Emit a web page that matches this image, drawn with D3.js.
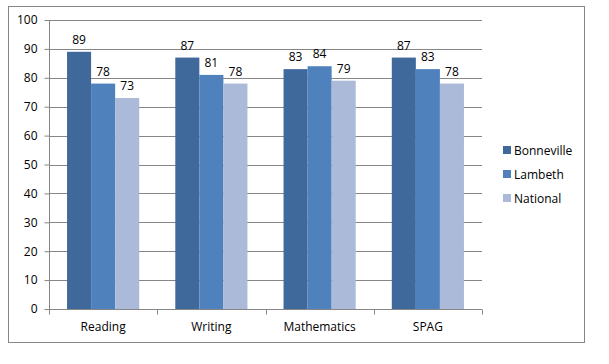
<!DOCTYPE html>
<html>
<head>
<style>
 body { margin: 0; background: #fff; }
 svg { font-family: "Open Sans", "DejaVu Sans", sans-serif; }
</style>
</head>
<body>
<svg width="609" height="364"></svg>
<script src="https://cdn.jsdelivr.net/npm/d3@7"></script>
<script>
var subjects = ["Reading", "Writing", "Mathematics", "SPAG"];
var seriesNames = ["Bonneville", "Lambeth", "National"];
var bonneville = [89, 87, 83, 87];
var lambeth = [78, 81, 84, 83];
var national = [73, 78, 79, 78];
var yTicks = [0, 10, 20, 30, 40, 50, 60, 70, 80, 90, 100];
var colors = ["#3F699B", "#4F81BD", "#AABAD8"];

var seriesValues = [bonneville, lambeth, national];

var svg = d3.select("svg");

// outer chart border
svg.append("rect")
    .attr("x", 8.5).attr("y", 6.5)
    .attr("width", 576).attr("height", 336)
    .attr("fill", "#fff")
    .attr("stroke", "#868686");

var plot = {left: 49, top: 20, right: 482, bottom: 309};

var x0 = d3.scaleBand()
    .domain(subjects)
    .range([plot.left, plot.right])
    .paddingInner(0)
    .paddingOuter(0);

var x1 = d3.scaleBand()
    .domain(seriesNames)
    .range([0, x0.bandwidth()])
    .paddingOuter(0.75)
    .paddingInner(0);

var y = d3.scaleLinear()
    .domain([0, 100])
    .range([plot.bottom, plot.top]);

// gridlines
svg.append("g")
    .selectAll("line")
    .data(yTicks.filter(function(d) { return d > 0; }))
    .join("line")
    .attr("x1", plot.left).attr("x2", plot.right)
    .attr("y1", function(d) { return Math.round(y(d)) + 0.5; })
    .attr("y2", function(d) { return Math.round(y(d)) + 0.5; })
    .attr("stroke", "#868686");

// bars
var groups = svg.append("g")
    .selectAll("g")
    .data(subjects)
    .join("g")
    .attr("transform", function(d) { return "translate(" + x0(d) + ",0)"; });

groups.selectAll("rect")
    .data(function(d, i) {
        return seriesNames.map(function(s, j) { return {s: s, v: seriesValues[j][i], j: j}; });
    })
    .join("rect")
    .attr("x", function(d) { return x1(d.s); })
    .attr("y", function(d) { return y(d.v); })
    .attr("width", x1.bandwidth())
    .attr("height", function(d) { return y(0) - y(d.v); })
    .attr("fill", function(d) { return colors[d.j]; });

groups.selectAll("text")
    .data(function(d, i) {
        return seriesNames.map(function(s, j) { return {s: s, v: seriesValues[j][i], j: j}; });
    })
    .join("text")
    .attr("x", function(d) { return x1(d.s) + x1.bandwidth() / 2; })
    .attr("y", function(d) { return y(d.v) - 8; })
    .attr("text-anchor", "middle")
    .style("font-size", "12px")
    .attr("fill", "#000")
    .text(function(d) { return d.v; });

// y axis
var yAxis = d3.axisLeft(y).tickValues(yTicks).tickSize(5).tickPadding(7);
var yG = svg.append("g")
    .attr("transform", "translate(" + (plot.left + 0.5) + ",0)")
    .call(yAxis);
yG.select(".domain").attr("stroke", "#868686").attr("d", "M0," + plot.top + "V" + plot.bottom);
yG.selectAll(".tick line").attr("stroke", "#868686");
yG.selectAll(".tick text").style("font-size", "12px").attr("fill", "#000")
    .style("font-family", "'Open Sans', sans-serif");

// x axis
var xG = svg.append("g")
    .attr("transform", "translate(0," + (plot.bottom + 0.5) + ")");
xG.append("line")
    .attr("x1", plot.left).attr("x2", plot.right)
    .attr("stroke", "#868686");
xG.selectAll(".xt")
    .data(subjects.concat(["end"]))
    .join("line")
    .attr("class", "xt")
    .attr("x1", function(d, i) { return Math.round(plot.left + i * x0.step()) + 0.5; })
    .attr("x2", function(d, i) { return Math.round(plot.left + i * x0.step()) + 0.5; })
    .attr("y1", 0).attr("y2", 5)
    .attr("stroke", "#868686");
xG.selectAll("text")
    .data(subjects)
    .join("text")
    .attr("x", function(d) { return x0(d) + x0.bandwidth() / 2; })
    .attr("y", 21)
    .attr("text-anchor", "middle")
    .style("font-size", "12px")
    .text(function(d) { return d; });

// legend
var legend = svg.append("g")
    .attr("transform", "translate(503,150)");
var items = legend.selectAll("g")
    .data(seriesNames)
    .join("g")
    .attr("transform", function(d, i) { return "translate(0," + (i * 24) + ")"; });
items.append("rect")
    .attr("x", 0).attr("y", -4)
    .attr("width", 8).attr("height", 8)
    .attr("fill", function(d, i) { return colors[i]; });
items.append("text")
    .attr("x", 11).attr("y", 4.5)
    .style("font-size", "12px")
    .text(function(d) { return d; });
</script>
</body>
</html>
